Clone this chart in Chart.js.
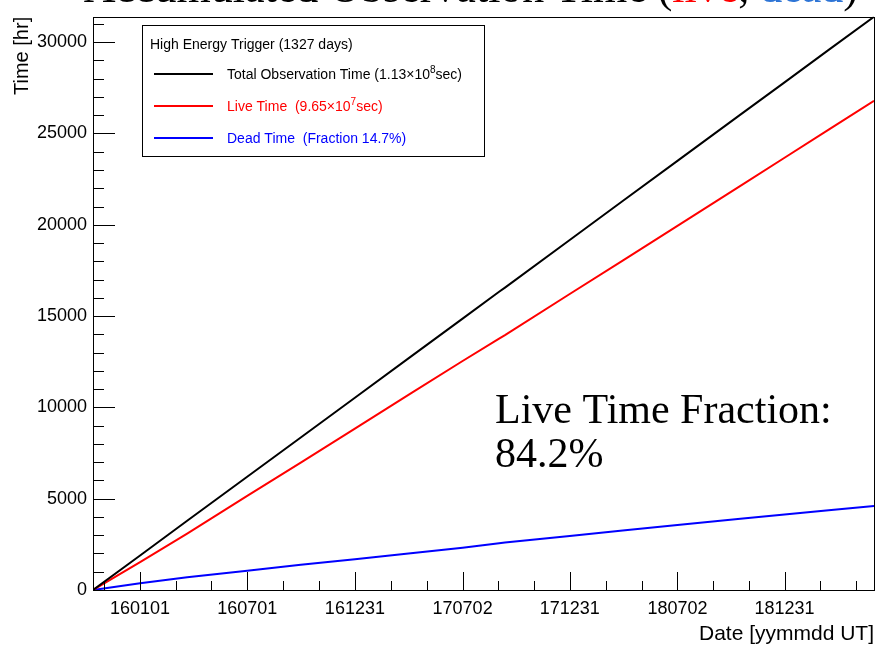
<!DOCTYPE html>
<html>
<head>
<meta charset="utf-8">
<script src="https://cdn.jsdelivr.net/npm/chart.js@4.4.0/dist/chart.umd.min.js"></script>
<style>
  html, body { margin: 0; padding: 0; background: #fff; }
</style>
</head>
<body>
<canvas id="canvas" width="877" height="649"></canvas>
<script>
// days counted from the start of observation (151013)
var days     = [0, 80, 160, 262, 353, 445, 540, 628, 690, 700, 810, 900, 993, 1100, 1175, 1250, 1327];
// accumulated hours
var totalHr  = [0, 1890, 3790, 6200, 8350, 10530, 12780, 14860, 16330, 16560, 19170, 21300, 23500, 26030, 27800, 29580, 31389];
var liveHr   = [0, 1526, 3090, 5150, 6970, 8840, 10770, 12540, 13770, 13960, 16210, 18040, 19940, 22130, 23670, 25210, 26789];
var deadHr   = [0, 364, 700, 1050, 1380, 1690, 2010, 2320, 2560, 2600, 2960, 3260, 3560, 3900, 4130, 4370, 4600];

var dateTicks  = [80, 262, 445, 628, 810, 993, 1175];
var dateLabels = ['160101', '160701', '161231', '170702', '171231', '180702', '181231'];
var hrTicks    = [0, 5000, 10000, 15000, 20000, 25000, 30000];

var totalDays = 1327;
var maxHr = 31389;

var legendHeader = 'High Energy Trigger (1327 days)';
var legendRows = [
  { color: '#000000', parts: ['Total Observation Time (1.13\u00d710', '8', 'sec)'] },
  { color: '#ff0000', parts: ['Live Time  (9.65\u00d710', '7', 'sec)'] },
  { color: '#0000ff', parts: ['Dead Time  (Fraction 14.7%)'] }
];

var SANS = '"Liberation Sans", Arial, sans-serif';
var SERIF = '"Liberation Serif", "Times New Roman", serif';

function pts(ys) {
  return days.map(function (d, i) { return { x: d, y: ys[i] }; });
}

// ROOT style frame, inward ticks, legend box and text notes
var rootDecor = {
  id: 'rootDecor',
  afterDraw: function (chart) {
    var ctx = chart.ctx;
    var a = chart.chartArea;
    var xs = chart.scales.x, ys = chart.scales.y;
    ctx.save();
    ctx.strokeStyle = '#000';
    ctx.lineWidth = 1;

    // frame
    ctx.strokeRect(Math.round(a.left) + 0.5, Math.round(a.top) + 0.5,
                   Math.round(a.right - a.left), Math.round(a.bottom - a.top));

    // x ticks: majors at the date labels, two minors in between
    var step = dateTicks[1] - dateTicks[0];
    var xt = [];
    for (var i = 0; i < dateTicks.length; i++) {
      xt.push({ v: dateTicks[i], len: 18 });
    }
    var minorX = [];
    for (var j = 0; j < dateTicks.length - 1; j++) {
      var s = (dateTicks[j + 1] - dateTicks[j]) / 3;
      minorX.push(dateTicks[j] + s, dateTicks[j] + 2 * s);
    }
    minorX.push(dateTicks[0] - step / 3);
    minorX.push(dateTicks[dateTicks.length - 1] + step / 3, dateTicks[dateTicks.length - 1] + 2 * step / 3);
    minorX.forEach(function (v) { xt.push({ v: v, len: 9 }); });
    ctx.beginPath();
    xt.forEach(function (t) {
      if (t.v < 0 || t.v > totalDays) return;
      var px = Math.round(xs.getPixelForValue(t.v)) + 0.5;
      ctx.moveTo(px, a.bottom);
      ctx.lineTo(px, a.bottom - t.len);
    });
    // y ticks: majors every 5000, minors every 1000
    for (var h = 0; h <= maxHr; h += 1000) {
      var py = Math.round(ys.getPixelForValue(h)) + 0.5;
      var len = (h % 5000 === 0) ? 22 : 11;
      ctx.moveTo(a.left, py);
      ctx.lineTo(a.left + len, py);
    }
    ctx.stroke();

    // legend box
    var bx = 142, by = 25, bw = 342, bh = 131;
    ctx.fillStyle = '#fff';
    ctx.fillRect(bx, by, bw, bh);
    ctx.strokeRect(bx + 0.5, by + 0.5, bw, bh);
    ctx.fillStyle = '#000';
    ctx.font = '14px ' + SANS;
    ctx.textBaseline = 'alphabetic';
    ctx.textAlign = 'left';
    ctx.fillText(legendHeader, 150, 49);
    legendRows.forEach(function (r, k) {
      var yy = 74 + k * 32;
      ctx.strokeStyle = r.color;
      ctx.lineWidth = 2;
      ctx.beginPath();
      ctx.moveTo(154, yy);
      ctx.lineTo(213, yy);
      ctx.stroke();
      ctx.fillStyle = r.color;
      var x = 227;
      ctx.font = '14px ' + SANS;
      ctx.fillText(r.parts[0], x, yy + 5);
      if (r.parts.length > 1) {
        x += ctx.measureText(r.parts[0]).width;
        ctx.font = '10px ' + SANS;
        ctx.fillText(r.parts[1], x, yy - 1);
        x += ctx.measureText(r.parts[1]).width;
        ctx.font = '14px ' + SANS;
        ctx.fillText(r.parts[2], x, yy + 5);
      }
    });

    // note inside the plot
    ctx.fillStyle = '#000';
    ctx.font = '42px ' + SERIF;
    ctx.fillText('Live Time Fraction:', 495, 423);
    ctx.fillText('84.2%', 495, 467);

    // slide title, cut off at the top
    ctx.font = '44px ' + SERIF;
    var parts = [
      ['Accumulated Observation Time (', '#000'],
      ['live', '#ff0000'],
      [', ', '#000'],
      ['dead', '#2e75d6'],
      [')', '#000']
    ];
    var total = 0;
    parts.forEach(function (p) { total += ctx.measureText(p[0]).width; });
    var tx = 858 - total;
    parts.forEach(function (p) {
      ctx.fillStyle = p[1];
      ctx.fillText(p[0], tx, 2);
      tx += ctx.measureText(p[0]).width;
    });
    ctx.restore();
  }
};

var config = {
  type: 'line',
  data: {
    datasets: [
      { label: 'Total', data: pts(totalHr), borderColor: '#000000', borderWidth: 2, pointRadius: 0, fill: false, tension: 0 },
      { label: 'Live', data: pts(liveHr), borderColor: '#ff0000', borderWidth: 2, pointRadius: 0, fill: false, tension: 0 },
      { label: 'Dead', data: pts(deadHr), borderColor: '#0000ff', borderWidth: 2, pointRadius: 0, fill: false, tension: 0 }
    ]
  },
  options: {
    responsive: false,
    animation: false,
    devicePixelRatio: 1,
    layout: { padding: { top: 13, right: 3, left: 0, bottom: 0 } },
    plugins: {
      legend: { display: false },
      tooltip: { enabled: false },
      title: { display: false }
    },
    scales: {
      x: {
        type: 'linear',
        min: 0,
        max: totalDays,
        afterBuildTicks: function (scale) {
          scale.ticks = dateTicks.map(function (v) { return { value: v }; });
        },
        afterFit: function (scale) { scale.height = 59; },
        grid: { drawOnChartArea: false, drawTicks: false },
        border: { display: false },
        ticks: {
          padding: 8,
          color: '#000',
          maxRotation: 0,
          autoSkip: false,
          font: { family: SANS, size: 18 },
          callback: function (v) {
            var i = dateTicks.indexOf(v);
            return i >= 0 ? dateLabels[i] : '';
          }
        },
        title: {
          display: true,
          text: 'Date [yymmdd UT]',
          align: 'end',
          color: '#000',
          font: { family: SANS, size: 21 },
          padding: { top: 0, bottom: 2 }
        }
      },
      y: {
        type: 'linear',
        min: 0,
        max: maxHr,
        afterBuildTicks: function (scale) {
          scale.ticks = hrTicks.map(function (v) { return { value: v }; });
        },
        afterFit: function (scale) { scale.width = 93; },
        grid: { drawOnChartArea: false, drawTicks: false },
        border: { display: false },
        ticks: {
          padding: 6,
          color: '#000',
          font: { family: SANS, size: 18 },
          callback: function (v) { return String(v); }
        },
        title: {
          display: true,
          text: 'Time [hr]',
          align: 'end',
          color: '#000',
          font: { family: SANS, size: 20 },
          padding: { top: 10, bottom: 0 }
        }
      }
    }
  },
  plugins: [rootDecor]
};

new Chart(document.getElementById('canvas'), config);
</script>
</body>
</html>
